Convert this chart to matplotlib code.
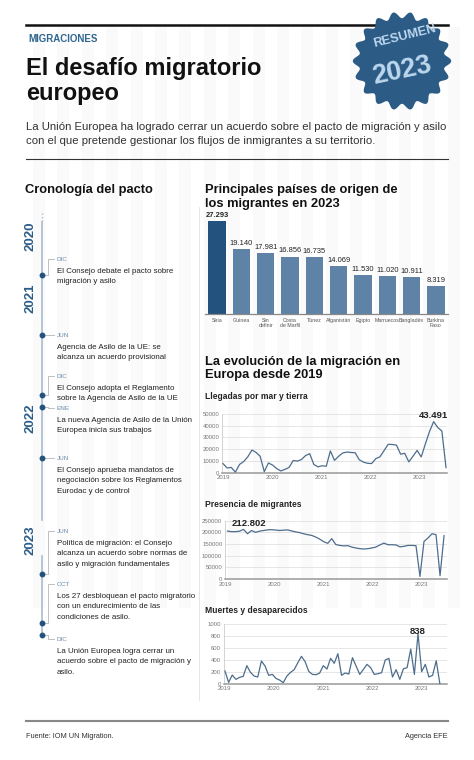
import numpy as np
import matplotlib.pyplot as plt
from matplotlib import font_manager
from matplotlib.patches import Polygon, Rectangle

W, H = 474, 760

# --- datos ---
paises = ['Siria', 'Guinea', 'Sin\ndefinir', 'Costa\nde Marfil', 'Túnez',
          'Afganistán', 'Egipto', 'Marruecos', 'Bangladés', 'Burkina\nFaso']
migrantes_2023 = [27293, 19140, 17981, 16856, 16735, 14069, 11530, 11020, 10911, 8319]

anios = [2019, 2020, 2021, 2022, 2023]

llegadas = [7800, 4000, 4500, 500, 7000, 9500, 13500, 19300, 17300, 14000, 900, 8300,
            6500, 3500, 1500, 2800, 4500, 10400, 9900, 11200, 14600, 16200, 7000, 5000,
            5900, 5500, 18500, 10500, 14000, 16800, 17600, 17200, 17000, 11000, 9000, 8000,
            7800, 12000, 13500, 18800, 24200, 24000, 23500, 15800, 16500, 9200, 14000, 19000,
            13400, 24500, 35000, 43491, 38500, 35500, 4300]

presencia = [205700, 203000, 203000, 205000, 212802, 194000, 208000, 200000, 205000, 208000, 210500, 211500,
             210000, 208000, 209500, 210500, 206000, 202000, 199000, 194000, 190000, 187000, 180000, 171000,
             160000, 153000, 173000, 148000, 144000, 142000, 143000, 137000, 133000, 130000, 128600, 130000,
             133000, 137000, 146000, 154000, 147000, 147000, 146000, 138000, 140000, 144000, 144000, 143000,
             11000, 161000, 176000, 194000, 190000, 14000, 186000]

muertes = [212, 22, 145, 73, 106, 123, 302, 190, 128, 112, 380, 296, 140, 156, 89, 61, 17, 128, 190, 235,
           352, 458, 369, 207, 156, 151, 179, 302, 246, 425, 341, 503, 140, 179, 162, 436, 296, 156, 240, 324,
           268, 156, 167, 184, 397, 425, 112, 235, 73, 251, 268, 580, 156, 838, 201, 324, 112, 140, 385, 0]

crono_anios = ['2020', '2021', '2022', '2023']
crono_meses = ['DIC', 'JUN', 'DIC', 'ENE', 'JUN', 'JUN', 'OCT', 'DIC']
crono_textos = [
    ['El Consejo debate el pacto sobre', 'migración y asilo'],
    ['Agencia de Asilo de la UE: se', 'alcanza un acuerdo provisional'],
    ['El Consejo adopta el Reglamento', 'sobre la Agencia de Asilo de la UE'],
    ['La nueva Agencia de Asilo de la Unión', 'Europea inicia sus trabajos'],
    ['El Consejo aprueba mandatos de', 'negociación sobre los Reglamentos', 'Eurodac y de control'],
    ['Política de migración: el Consejo', 'alcanza un acuerdo sobre normas de',
     'asilo y migración fundamentales'],
    ['Los 27 desbloquean el pacto migratorio', 'con un endurecimiento de las',
     'condiciones de asilo.'],
    ['La Unión Europea logra cerrar un', 'acuerdo sobre el pacto de migración y', 'asilo.'],
]

# --- posiciones (px) de la cronologia ---
y_anios = [236, 298, 418, 540]
y_meses = [259, 335, 376, 408, 458, 531, 584, 639]
y_puntos = [275, 335, 395, 407, 458, 574, 623, 635]

AZUL = '#2c5b86'
AZUL_OSC = '#22527d'
BARRA = '#5e83a7'
LINEA = '#4d6d8d'
GRIS = '#777777'

nombres = {f.name for f in font_manager.fontManager.ttflist}
if 'Liberation Sans Narrow' in nombres:
    NARROW, k = 'Liberation Sans Narrow', 1.0
else:
    NARROW, k = 'Liberation Sans', 0.84
plt.rcParams['font.family'] = ['Liberation Sans', 'DejaVu Sans']

fig = plt.figure(figsize=(W / 100, H / 100), dpi=100)
bg = fig.add_axes([0, 0, 1, 1])
bg.set_xlim(0, W)
bg.set_ylim(H, 0)
bg.axis('off')


def rect(l, t, r, b):
    return [l / W, 1 - b / H, (r - l) / W, (b - t) / H]


def fmt(v):
    return f'{v:,}'.replace(',', '.')


# fondo de franjas
for x0 in np.arange(33, 448, 24.4):
    bg.add_patch(Rectangle((x0, 27), 12, 581, color='#fafafa', lw=0, zorder=0))

bg.plot([26, 448], [25, 25], color='#111111', lw=1.8, zorder=1)
bg.plot([26, 448], [159, 159], color='#333333', lw=0.8)
bg.plot([26, 448], [721, 721], color='#888888', lw=1.5)
bg.plot([199, 199], [207, 700], color='#e2e2e2', lw=0.6)

# sello "Resumen 2023"
theta = np.linspace(0, 2 * np.pi, 721)
r = 46 + 3.2 * np.cos(18 * theta)
bg.add_patch(Polygon(np.c_[402 + r * np.cos(theta), 61 + r * np.sin(theta)],
                     closed=True, fc=AZUL, ec='none', zorder=5))
bg.text(405, 36, 'RESUMEN', rotation=14, ha='center', va='center', color='#bcd7ee',
        fontsize=11 * k, fontweight='bold', family=NARROW, zorder=6)
bg.text(402, 71, '2023', rotation=12, ha='center', va='center', color='#bcd7ee',
        fontsize=23 * k, fontweight='bold', family=NARROW, zorder=6)

# cabecera
bg.text(28, 42.5, 'MIGRACIONES', color='#2e6690', fontsize=7, fontweight='bold')
bg.text(26, 75, 'El desafío migratorio', fontsize=17, fontweight='bold', color='#111111')
bg.text(26, 100, 'europeo', fontsize=17, fontweight='bold', color='#111111')
bg.text(26, 130, 'La Unión Europea ha logrado cerrar un acuerdo sobre el pacto de migración y asilo',
        fontsize=8.2, color='#333333')
bg.text(26, 144.5, 'con el que pretende gestionar los flujos de inmigrantes a su territorio.',
        fontsize=8.2, color='#333333')

bg.text(25, 193.5, 'Cronología del pacto', fontsize=9.3, fontweight='bold', color='#111111')
bg.text(205, 193.5, 'Principales países de origen de', fontsize=9.3, fontweight='bold', color='#111111')
bg.text(205, 207, 'los migrantes en 2023', fontsize=9.3, fontweight='bold', color='#111111')
bg.text(205, 364.5, 'La evolución de la migración en', fontsize=9.3, fontweight='bold', color='#111111')
bg.text(205, 378, 'Europa desde 2019', fontsize=9.3, fontweight='bold', color='#111111')
bg.text(205, 399, 'Llegadas por mar y tierra', fontsize=7.3 * k, fontweight='bold',
        family=NARROW, color='#222222')
bg.text(205, 507, 'Presencia de migrantes', fontsize=7.3 * k, fontweight='bold',
        family=NARROW, color='#222222')
bg.text(205, 613, 'Muertes y desaparecidos', fontsize=7.3 * k, fontweight='bold',
        family=NARROW, color='#222222')

bg.text(26, 737.5, 'Fuente: IOM UN Migration.', fontsize=6.3 * k, family=NARROW, color='#333333')
bg.text(448, 737.5, 'Agencia EFE', fontsize=6.3 * k, family=NARROW, color='#333333', ha='right')

# cronologia
CL = '#a9bccd'
bg.plot([42, 42], [213, 222], color=CL, lw=1, ls=(0, (1, 1.5)))
bg.plot([42, 42], [222, 520], color=CL, lw=1.2)
bg.plot([42, 42], [556, 637], color=CL, lw=1.2)
for lab, yy in zip(crono_anios, y_anios):
    bg.text(31, yy, lab, rotation=90, ha='center', va='center', color='#2a5d8a',
            fontsize=9.5, fontweight='bold')
for mes, lineas, ym, yp in zip(crono_meses, crono_textos, y_meses, y_puntos):
    bg.plot([42, 48, 48, 54], [yp, yp, ym, ym], color='#b5b5b5', lw=0.6)
    bg.plot(42, yp, 'o', ms=3.2, color=AZUL_OSC, zorder=4)
    bg.text(57, ym + 2, mes, fontsize=4.6, color='#6f8cab')
    for j, s in enumerate(lineas):
        bg.text(57, ym + 14 + j * 10.3, s, fontsize=6.8 * k, family=NARROW, color='#222222')

# --- barras ---
ax = fig.add_axes(rect(205, 208.4, 448, 314))
ax.set_facecolor('none')
xb = np.arange(len(paises))
colores = [AZUL_OSC] + [BARRA] * (len(paises) - 1)
ax.bar(xb, migrantes_2023, width=0.72, color=colores)
for i, v in enumerate(migrantes_2023):
    ax.annotate(fmt(v), (i, v), xytext=(0, 1.5), textcoords='offset points', ha='center',
                va='bottom', fontsize=5.4, color='#222222',
                fontweight='bold' if i == 0 else 'normal')
ax.set_xlim(-0.5, len(paises) - 0.5)
ax.set_ylim(0, 31000)
ax.set_yticks([])
ax.set_xticks(xb)
ax.set_xticklabels(paises, fontsize=3.8, color='#555555', linespacing=0.95)
ax.tick_params(axis='x', length=0, pad=3)
for s in ['top', 'right', 'left']:
    ax.spines[s].set_visible(False)
ax.spines['bottom'].set_color('#888888')
ax.spines['bottom'].set_linewidth(0.9)


# --- series ---
def serie(caja, valores, x0, x1, xlim, ymax, paso):
    a = fig.add_axes(rect(*caja))
    a.set_facecolor('none')
    x = np.linspace(x0, x1, len(valores))
    a.plot(x, valores, color=LINEA, lw=0.9, zorder=3)
    a.set_xlim(*xlim)
    a.set_ylim(0, ymax)
    a.set_yticks(np.arange(0, ymax + 1, paso))
    a.set_yticklabels([str(int(t)) for t in np.arange(0, ymax + 1, paso)])
    a.set_xticks(anios)
    a.set_xticklabels([str(t) for t in anios])
    a.grid(axis='y', color='#e2e2e2', lw=0.6)
    a.tick_params(length=0, labelsize=4.3, labelcolor=GRIS, pad=2)
    for s in ['top', 'right']:
        a.spines[s].set_visible(False)
    a.spines['left'].set_color('#cccccc')
    a.spines['left'].set_linewidth(0.6)
    a.spines['bottom'].set_color('#999999')
    a.spines['bottom'].set_linewidth(1.1)
    i = int(np.argmax(valores))
    return a, x[i], valores[i]


a1, xm, vm = serie((222, 414, 447, 472.7), llegadas, 2019.0, 2023.53, (2018.98, 2023.55), 50000, 10000)
a1.annotate(fmt(vm), (xm, vm), xytext=(0, 1), textcoords='offset points', ha='center', va='bottom',
            fontsize=6.8, fontweight='bold', color='#222222')

a2, xm, vm = serie((225, 520.7, 447, 579), presencia, 2019.05, 2023.46, (2019.01, 2023.52), 250000, 50000)
a2.annotate(fmt(vm), (xm, vm), xytext=(4, 1), textcoords='offset points', ha='center', va='bottom',
            fontsize=6.8, fontweight='bold', color='#222222')

a3, xm, vm = serie((224, 624, 447, 683.7), muertes, 2019.01, 2023.375, (2018.99, 2023.52), 1000, 200)
a3.annotate(fmt(vm), (xm, vm), xytext=(0, -2), textcoords='offset points', ha='center', va='bottom',
            fontsize=6.8, fontweight='bold', color='#222222')

fig.savefig('out.png', dpi=100)
